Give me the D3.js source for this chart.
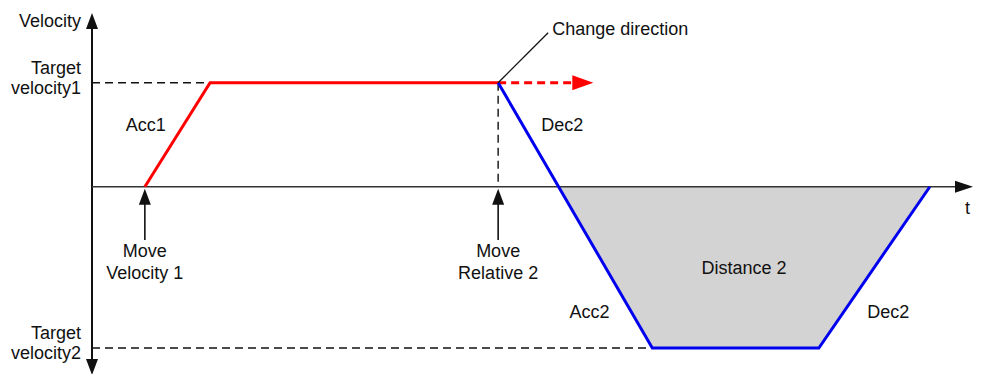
<!DOCTYPE html>
<html>
<head>
<meta charset="utf-8">
<script src="https://cdn.jsdelivr.net/npm/d3@7"></script>
<style>
  body { margin: 0; background: #fff; }
  text { font-family: "Liberation Sans", Arial, sans-serif; font-size: 18px; fill: #111; }
</style>
</head>
<body>
<div id="graph"></div>
<script>
// profile data (time in arbitrary units, velocity relative to target velocity1)
var redTimes = [0.6, 1.34, 4.61]
var redVel = [0, 1, 1]
var redDashEnd = 5.69
var blueTimes = [4.61, 6.36, 8.25, 9.51]
var blueVel = [1, -1.55, -1.55, 0]
var targetVel = [1, -1.55]
var targetLabels = [['Target', 'velocity1'], ['Target', 'velocity2']]
var eventTimes = [0.6, 4.61]
var eventLabels = [['Move', 'Velocity 1'], ['Move', 'Relative 2']]
var slopeLabels = [
  {t: 0.61, v: 0.54, text: 'Acc1', anchor: 'middle'},
  {t: 5.1, v: 0.54, text: 'Dec2', anchor: 'start'},
  {t: 5.42, v: -1.26, text: 'Acc2', anchor: 'start'},
  {t: 8.8, v: -1.26, text: 'Dec2', anchor: 'start'},
  {t: 7.4, v: -0.84, text: 'Distance 2', anchor: 'middle'}
]

var width = 981, height = 374

var x = d3.scaleLinear().domain([0, 10]).range([92, 973])
var y = d3.scaleLinear().domain([-1.8, 1.67]).range([374, 13])

var svg = d3.select('#graph').append('svg')
    .attr('width', width)
    .attr('height', height)

var line = d3.line().x(function(d){ return x(d[0]) }).y(function(d){ return y(d[1]) })

// shaded distance: blue line below zero
var b0 = [blueTimes[0], blueVel[0]], b1 = [blueTimes[1], blueVel[1]]
var tCross = b0[0] + (b1[0] - b0[0]) * (b0[1] / (b0[1] - b1[1]))
var fillPts = [[tCross, 0]]
blueTimes.forEach(function(t, i){ if (t > tCross) fillPts.push([t, blueVel[i]]) })
svg.append('path')
    .attr('d', line(fillPts) + 'Z')
    .attr('fill', '#d3d3d3')

var x0 = x(0), y0 = y(0)

function arrowHead(tipX, tipY, dx, dy, len, half, color){
  // dx,dy unit direction of arrow
  var bx = tipX - dx*len, by = tipY - dy*len
  var px = -dy*half, py = dx*half
  svg.append('path')
    .attr('d', 'M' + tipX + ',' + tipY + 'L' + (bx+px) + ',' + (by+py) + 'L' + (bx-px) + ',' + (by-py) + 'Z')
    .attr('fill', color)
}

// target dashed lines
targetVel.forEach(function(v, i){
  var tEnd = i == 0 ? redTimes[2] : blueTimes[1]
  svg.append('line')
    .attr('x1', x0).attr('x2', x(tEnd))
    .attr('y1', y(v)).attr('y2', y(v))
    .attr('stroke', '#111').attr('stroke-width', 1.4)
    .attr('stroke-dasharray', '8,5')
  var tx = svg.append('text').attr('text-anchor', 'end')
  tx.append('tspan').attr('x', 81).attr('y', y(v) - 9).text(targetLabels[i][0])
  tx.append('tspan').attr('x', 81).attr('y', y(v) + 11).text(targetLabels[i][1])
})

// vertical dashed at change point
svg.append('line')
    .attr('x1', x(redTimes[2])).attr('x2', x(redTimes[2]))
    .attr('y1', y(1)).attr('y2', y0)
    .attr('stroke', '#111').attr('stroke-width', 1.4)
    .attr('stroke-dasharray', '8,5')

// axes
svg.append('line')
    .attr('x1', x0).attr('x2', x0).attr('y1', 26).attr('y2', 362)
    .attr('stroke', '#111').attr('stroke-width', 2)
arrowHead(x0, 13, 0, -1, 16, 6, '#111')
arrowHead(x0, 375, 0, 1, 16, 6, '#111')
svg.append('line')
    .attr('x1', x0).attr('x2', 958).attr('y1', y0).attr('y2', y0)
    .attr('stroke', '#333').attr('stroke-width', 1.6)
arrowHead(x(10), y0, 1, 0, 18, 6, '#111')

svg.append('text').attr('x', 81).attr('y', 27).attr('text-anchor', 'end').text('Velocity')
svg.append('text').attr('x', 965).attr('y', 214).text('t')

// red profile
svg.append('path')
    .attr('d', line(redTimes.map(function(t, i){ return [t, redVel[i]] })))
    .attr('fill', 'none').attr('stroke', '#ff0000').attr('stroke-width', 3)
svg.append('line')
    .attr('x1', x(redTimes[2])).attr('x2', x(redDashEnd) - 20)
    .attr('y1', y(1)).attr('y2', y(1))
    .attr('stroke', '#ff0000').attr('stroke-width', 3)
    .attr('stroke-dasharray', '8,5')
arrowHead(x(redDashEnd), y(1), 1, 0, 21, 7.5, '#ff0000')

// blue profile
svg.append('path')
    .attr('d', line(blueTimes.map(function(t, i){ return [t, blueVel[i]] })))
    .attr('fill', 'none').attr('stroke', '#0000ee').attr('stroke-width', 3)
    .attr('stroke-linejoin', 'miter')

// change direction leader
svg.append('line')
    .attr('x1', x(redTimes[2])).attr('y1', y(1))
    .attr('x2', x(redTimes[2]) + 50).attr('y2', y(1) - 50)
    .attr('stroke', '#111').attr('stroke-width', 1.3)
svg.append('text').attr('x', x(redTimes[2]) + 54).attr('y', 35).text('Change direction')

// event arrows
eventTimes.forEach(function(t, i){
  svg.append('line')
    .attr('x1', x(t)).attr('x2', x(t)).attr('y1', 240).attr('y2', 204)
    .attr('stroke', '#111').attr('stroke-width', 1.6)
  arrowHead(x(t), y0 + 2, 0, -1, 16, 6, '#111')
  var tx = svg.append('text').attr('text-anchor', 'middle')
  tx.append('tspan').attr('x', x(t)).attr('y', 257).text(eventLabels[i][0])
  tx.append('tspan').attr('x', x(t)).attr('y', 279).text(eventLabels[i][1])
})

// slope / area labels
slopeLabels.forEach(function(d){
  svg.append('text')
    .attr('x', x(d.t)).attr('y', y(d.v))
    .attr('text-anchor', d.anchor)
    .text(d.text)
})
</script>
</body>
</html>
